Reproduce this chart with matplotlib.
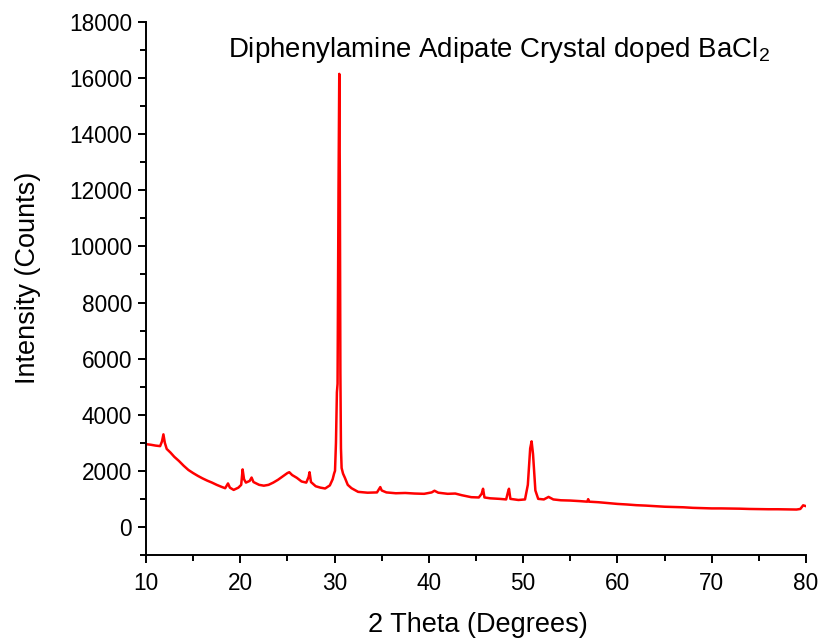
import matplotlib
matplotlib.use("Agg")
import matplotlib.pyplot as plt
from matplotlib.ticker import MultipleLocator

plt.rcParams['font.family'] = ['Liberation Sans', 'DejaVu Sans']
plt.rcParams['mathtext.fontset'] = 'custom'
plt.rcParams['mathtext.rm'] = 'Liberation Sans'
plt.rcParams['mathtext.it'] = 'Liberation Sans'

two_theta = [
    10.0, 10.5, 11.0, 11.5, 11.7, 11.85, 12.0, 12.2, 12.6, 13.0, 13.5, 14.0, 14.5,
    15.0, 15.5, 16.0, 16.5, 17.0, 17.5, 18.0, 18.4, 18.7, 18.9, 19.3, 19.8, 20.1,
    20.25, 20.4, 20.6, 21.0, 21.2, 21.4, 22.0, 22.5, 23.0, 23.5, 24.0, 24.5, 25.0,
    25.2, 25.5, 26.0, 26.5, 27.0, 27.25, 27.35, 27.5, 28.0, 28.5, 29.0, 29.5, 29.8,
    29.95, 30.05, 30.15, 30.25, 30.32, 30.42, 30.5, 30.56, 30.62, 30.68, 30.75,
    30.9, 31.1, 31.4, 31.8, 32.5, 33.5, 34.5, 34.85, 35.0, 35.5, 36.5, 37.5, 38.5,
    39.5, 40.3, 40.6, 41.0, 42.0, 42.8, 43.5, 44.5, 45.3, 45.6, 45.75, 45.9, 46.5,
    47.5, 48.2, 48.4, 48.5, 48.65, 49.5, 50.2, 50.5, 50.75, 50.9, 51.05, 51.3, 51.6,
    52.2, 52.7, 53.2, 54.0, 55.0, 56.0, 56.8, 56.9, 57.0, 58.0, 59.0, 60.0, 61.0,
    62.0, 63.0, 64.0, 65.0, 66.0, 67.0, 68.0, 69.0, 70.0, 71.0, 72.0, 73.0, 74.0,
    75.0, 76.0, 77.0, 78.0, 79.0, 79.4, 79.7, 80.0,
]
counts = [
    2950, 2930, 2900, 2880, 3050, 3300, 3000, 2780, 2650, 2500, 2350, 2180, 2030,
    1920, 1820, 1730, 1650, 1580, 1500, 1430, 1380, 1550, 1400, 1320, 1400, 1500,
    2050, 1700, 1580, 1640, 1760, 1600, 1500, 1470, 1500, 1580, 1680, 1800, 1920,
    1950, 1850, 1750, 1620, 1580, 1780, 1950, 1600, 1450, 1400, 1370, 1480, 1700,
    1900, 2000, 3000, 4800, 5100, 12000, 16150, 12500, 5500, 2800, 2100,
    1900, 1750, 1500, 1380, 1250, 1220, 1230, 1420, 1300, 1230, 1200, 1210, 1190,
    1180, 1230, 1290, 1220, 1180, 1190, 1130, 1060, 1050, 1180, 1360, 1050, 1020,
    1000, 980, 1250, 1360, 1000, 960, 980, 1500, 2800, 3050, 2600, 1300, 1000,
    980, 1070, 980, 950, 940, 920, 900, 990, 900, 880, 850, 820, 800,
    775, 760, 740, 720, 710, 700, 680, 670, 660, 660, 655, 650, 640,
    635, 630, 630, 625, 620, 640, 770, 740,
]

fig = plt.figure(figsize=(8.21, 6.39), dpi=100)
ax = fig.add_axes([0.1778, 0.1315, 0.8039, 0.8341])
ax.plot(two_theta, counts, color='#ff0000', linewidth=1.8)

ax.set_xlim(10, 80)
ax.set_ylim(-1000, 18000)
ax.xaxis.set_major_locator(MultipleLocator(10))
ax.xaxis.set_minor_locator(MultipleLocator(5))
ax.yaxis.set_minor_locator(MultipleLocator(1000))
ax.set_yticks(range(0, 18001, 2000))

for s in ['top', 'right']:
    ax.spines[s].set_visible(False)
for s in ['left', 'bottom']:
    ax.spines[s].set_linewidth(1.4)

ax.tick_params(axis='both', which='major', direction='out', length=6, width=1.4,
               labelsize=16.3, pad=4)
ax.tick_params(axis='both', which='minor', direction='out', length=4, width=1.4)
ax.tick_params(axis='x', which='major', pad=6)

ax.set_xlabel('2 Theta (Degrees)', fontsize=19.5, va='center')
ax.xaxis.set_label_coords(0.503, -0.131)
ax.set_ylabel('Intensity (Counts)', fontsize=19.5, va='center')
ax.yaxis.set_label_coords(-0.179, 0.52)

ax.text(0.124, 0.947, 'Diphenylamine Adipate Crystal doped BaCl$_2$',
        transform=ax.transAxes, fontsize=19.9, ha='left', va='center')

fig.savefig('out.png', dpi=100)
